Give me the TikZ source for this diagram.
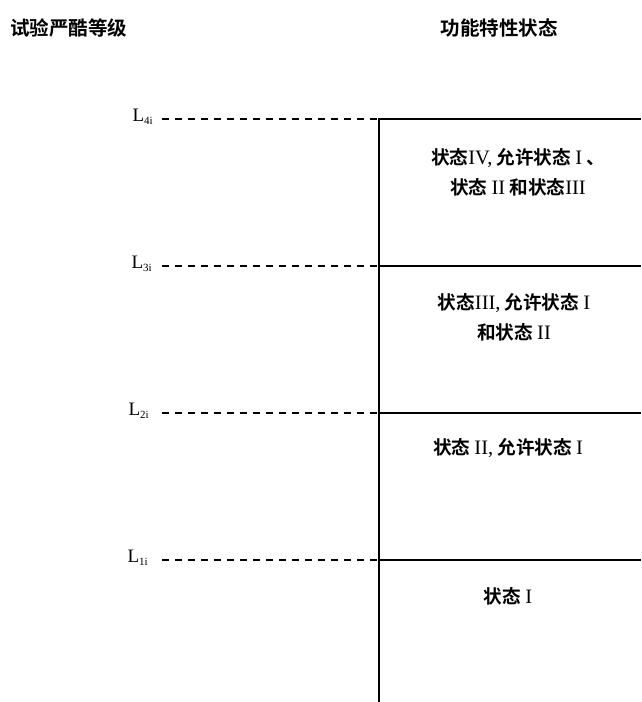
\documentclass[tikz,border=0pt]{standalone}
\usepackage{fontspec}
\setmainfont{Liberation Serif}
\newfontfamily\cjk{Noto Sans CJK SC Bold}
\newcommand\R[1]{{\rmfamily\fontsize{20.5}{30}\selectfont #1}}
\begin{document}
\begin{tikzpicture}[x=1pt,y=-1pt,
  solidline/.style={line width=1.6pt},
  dashline/.style={line width=1.1pt, dash pattern=on 7pt off 6pt},
  lvl/.style={anchor=base east, inner sep=0pt, font=\fontsize{19}{19}\selectfont},
  state/.style={align=center, inner sep=0pt, font=\cjk\fontsize{18.6}{30}\selectfont},
  head/.style={inner sep=0pt, font=\cjk\fontsize{19.5}{19.5}\selectfont}]
\useasboundingbox (0,0) rectangle (641,702);
\node[head, anchor=west] (h1) at (10,28) {试验严酷等级};
\node[head] (h2) at (499,28) {功能特性状态};
\foreach \i/\y/\lx in {4/119/153, 3/266/152, 2/413/149, 1/560/148} {
  \coordinate (d\i) at (162,\y);
  \coordinate (v\i) at (379,\y);
  \coordinate (e\i) at (641,\y);
  \draw[dashline] (d\i) -- (v\i);
  \node[lvl] (l\i) at (\lx,\y+2) {L{\fontsize{11}{11}\selectfont\raisebox{-3.5pt}{\i i}}};
}
\coordinate (bot) at (379,702);
\draw[solidline] (e4) -- (v4) -- (bot);
\foreach \i in {3,2,1} { \draw[solidline] (v\i) -- (e\i); }
\node[state] (s4) at (518,172) {状态\R{IV,} 允许状态 \R{I} 、\\ 状态 \R{II} 和状态\R{III}};
\node[state] (s3) at (514,317) {状态\R{III,} 允许状态 \R{I}\\ 和状态 \R{II}};
\node[state] (s2) at (508,448) {状态 \R{II,} 允许状态 \R{I}};
\node[state] (s1) at (508,596) {状态 \R{I}};
\end{tikzpicture}
\end{document}
